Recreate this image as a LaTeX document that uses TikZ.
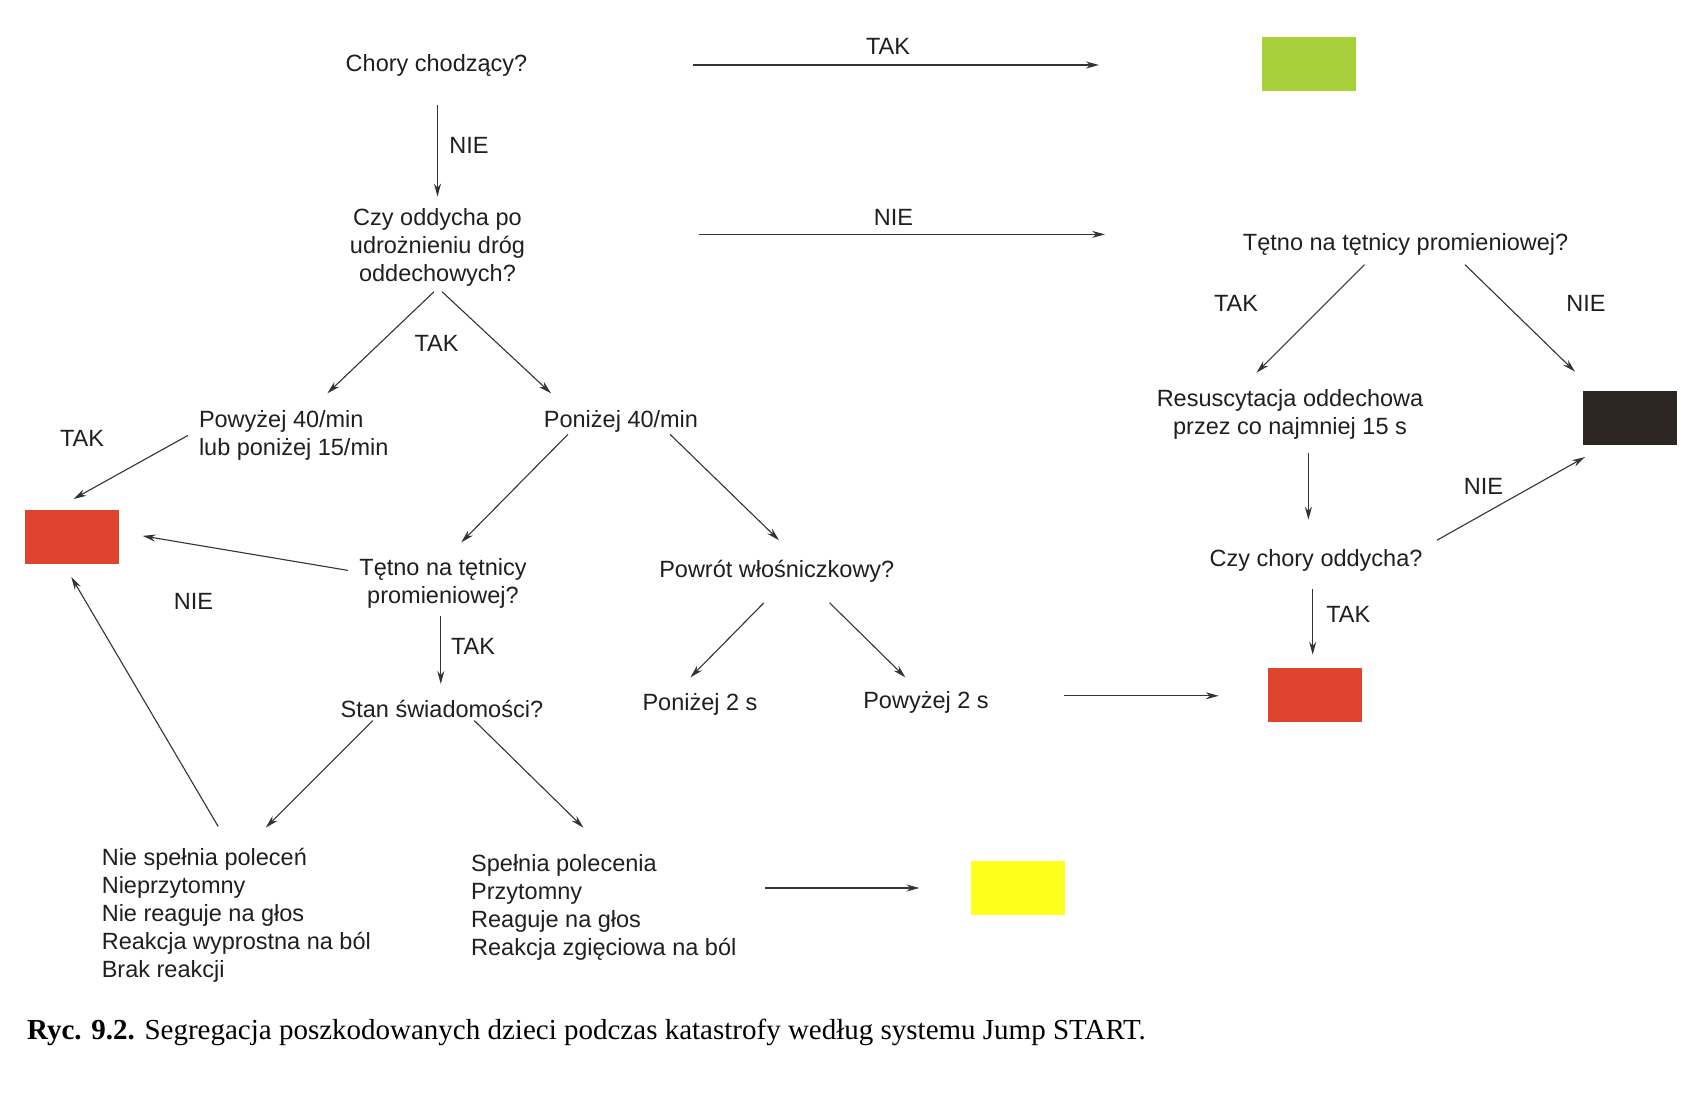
\documentclass[tikz,border=0pt]{standalone}
\usepackage{fontspec}
\setmainfont{Liberation Sans}
\newfontfamily\capfont{Liberation Serif}
\usetikzlibrary{arrows.meta}
\definecolor{lgreen}{HTML}{A8D03A}
\definecolor{tred}{HTML}{DF4430}
\definecolor{tyellow}{HTML}{FFFF1E}
\definecolor{tblack}{HTML}{2D2622}
\definecolor{lineg}{HTML}{333333}
\begin{document}
\begin{tikzpicture}[x=1pt,y=-1pt,
  every node/.style={font=\fontsize{23.5}{28}\selectfont, inner sep=0pt, text=black!88},
  lbl/.style={yshift=-2pt},
  txt/.style={align=center, yshift=-2.5pt},
  ltxt/.style={align=left},
  arr/.style={draw=lineg, line width=1.1pt, -{Stealth[length=13pt,width=7pt]}},
  box/.style={minimum width=94pt, minimum height=54pt, draw=none}]
\useasboundingbox (0,0) rectangle (1694,1099);
% question / text nodes
\node[txt] (q1) at (436.5,62.7) {Chory chodzący?};
\node[txt] (q2) at (437.5,245) {Czy oddycha po\\udrożnieniu dróg\\oddechowych?};
\node[txt] (q3) at (1405.6,242) {Tętno na tętnicy promieniowej?};
\node[ltxt, anchor=west, yshift=-2.5pt] (t1) at (198.8,433) {Powyżej 40/min\\lub poniżej 15/min};
\node[txt] (t2) at (621,419) {Poniżej 40/min};
\node[txt] (q4) at (443,581) {Tętno na tętnicy\\promieniowej?};
\node[txt] (q5) at (776.8,568.3) {Powrót włośniczkowy?};
\node[txt] (q6) at (441.9,706.6) {Stan świadomości?};
\node[txt] (t3) at (700,702.3) {Poniżej 2 s};
\node[txt] (t4) at (926,700) {Powyżej 2 s};
\node[ltxt, anchor=north west] (t5) at (101.6,848) {Nie spełnia poleceń\\Nieprzytomny\\Nie reaguje na głos\\Reakcja wyprostna na ból\\Brak reakcji};
\node[ltxt, anchor=north west] (t6) at (471,854) {Spełnia polecenia\\Przytomny\\Reaguje na głos\\Reakcja zgięciowa na ból};
\node[txt] (t7) at (1290,411.6) {Resuscytacja oddechowa\\przez co najmniej 15 s};
\node[txt] (q7) at (1316,557.5) {Czy chory oddycha?};
% colour boxes
\node[box, fill=lgreen] (g) at (1309,64.5) {};
\node[box, fill=tred] (r1) at (71.8,537) {};
\node[box, fill=tred] (r2) at (1315.4,694.7) {};
\node[box, fill=tyellow] (y) at (1018.3,888) {};
\node[box, fill=tblack] (b) at (1630.3,418) {};
% labels
\node[lbl] (l1) at (888,44) {TAK};
\node[lbl] (l2) at (469,143.7) {NIE};
\node[lbl] (l3) at (893.5,215) {NIE};
\node[lbl] (l4) at (436.5,341.4) {TAK};
\node[lbl] (l5) at (82,436.5) {TAK};
\node[lbl] (l6) at (193.4,599.6) {NIE};
\node[lbl] (l7) at (473,644) {TAK};
\node[lbl] (l8) at (1236,301.4) {TAK};
\node[lbl] (l9) at (1586,301.4) {NIE};
\node[lbl] (l10) at (1483.4,484) {NIE};
\node[lbl] (l11) at (1348.3,612.6) {TAK};
% caption
\node[anchor=west, font=\capfont\fontsize{29}{32}\selectfont, text=black] (cap) at (27,1032.5) {\textbf{Ryc. 9.2.} Segregacja poszkodowanych dzieci podczas katastrofy według systemu Jump START.};
% arrow end points
\coordinate (a1s) at (692.5,65); \coordinate (a1e) at (1099,65);
\coordinate (a2s) at (437.5,105); \coordinate (a2e) at (437.5,196.6);
\coordinate (a3s) at (699,234.4); \coordinate (a3e) at (1105,234.4);
\coordinate (a4s) at (434,291.7); \coordinate (a4e) at (327.4,393.3);
\coordinate (a5s) at (442,291.7); \coordinate (a5e) at (551,393.3);
\coordinate (a6s) at (188,435.4); \coordinate (a6e) at (73.5,499);
\coordinate (a7s) at (568,434.3); \coordinate (a7e) at (461.3,542.4);
\coordinate (a8s) at (670,434.3); \coordinate (a8e) at (779,540.2);
\coordinate (a9s) at (348,570.4); \coordinate (a9e) at (142.6,535.9);
\coordinate (a10s) at (440.8,615.8); \coordinate (a10e) at (440.8,684);
\coordinate (a11s) at (372.7,720.6); \coordinate (a11e) at (265.8,827.6);
\coordinate (a12s) at (474.3,720.6); \coordinate (a12e) at (583.4,827.6);
\coordinate (a13s) at (218.2,826.5); \coordinate (a13e) at (71.3,577);
\coordinate (a14s) at (765,888); \coordinate (a14e) at (919.4,888);
\coordinate (a15s) at (763.8,602.9); \coordinate (a15e) at (690.4,677.4);
\coordinate (a16s) at (829.7,602.9); \coordinate (a16e) at (905.4,677.4);
\coordinate (a17s) at (1064,695.8); \coordinate (a17e) at (1218.7,695.8);
\coordinate (a18s) at (1364.5,264.7); \coordinate (a18e) at (1256.5,372.7);
\coordinate (a19s) at (1465,264.7); \coordinate (a19e) at (1575,371.7);
\coordinate (a20s) at (1308.4,452.7); \coordinate (a20e) at (1308.4,519.7);
\coordinate (a21s) at (1437,540.2); \coordinate (a21e) at (1585,457);
\coordinate (a22s) at (1312.7,588.8); \coordinate (a22e) at (1312.7,654.7);
\foreach \i in {1,...,22} { \draw[arr] (a\i s) -- (a\i e); }
\end{tikzpicture}
\end{document}
